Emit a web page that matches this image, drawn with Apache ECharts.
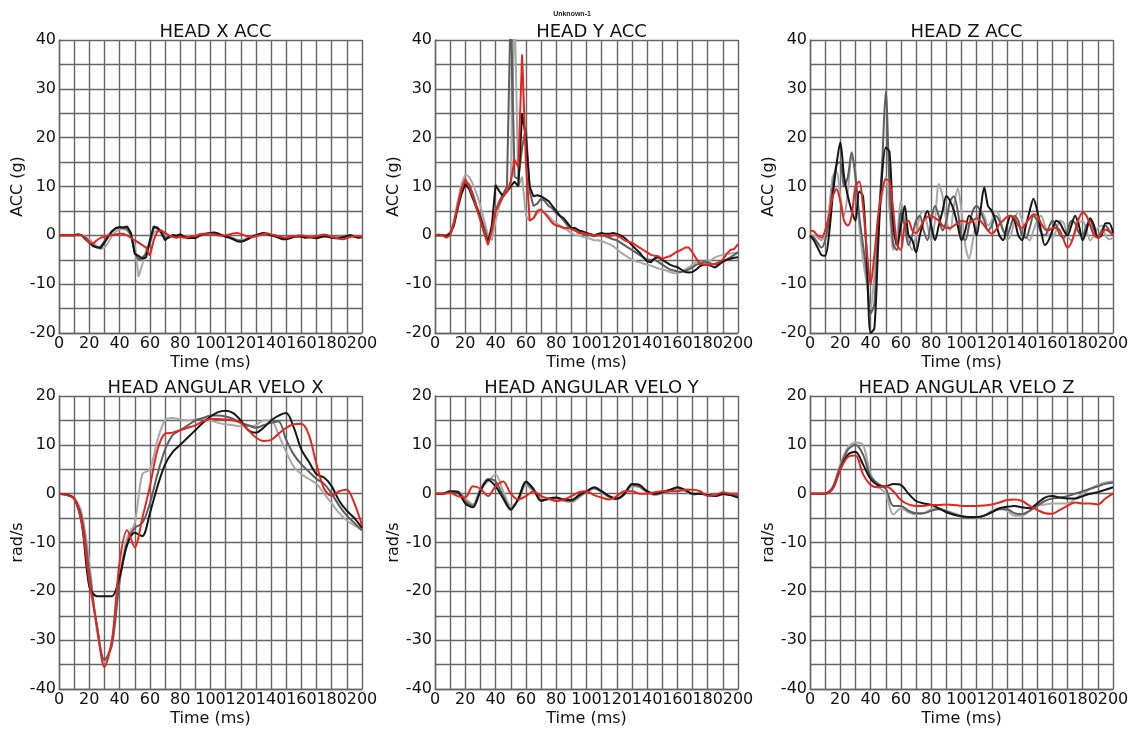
<!DOCTYPE html>
<html><head><meta charset="utf-8">
<script src="https://cdn.jsdelivr.net/npm/echarts@6/dist/echarts.min.js"></script>
<style>html,body{margin:0;padding:0;background:#fff}#c{width:1133px;height:731px}</style>
</head><body><div id="c"></div>
<script>
// ---- time bases (ms) ----
const timeAcc = [0,2.5,5,7.5,10,12.5,15,17.5,20,22.5,25,27.5,30,32.5,35,37.5,40,42.5,45,47.5,50,52.5,55,57.5,60,62.5,65,67.5,70,72.5,75,77.5,80,82.5,85,87.5,90,92.5,95,97.5,100,102.5,105,107.5,110,112.5,115,117.5,120,122.5,125,127.5,130,132.5,135,137.5,140,142.5,145,147.5,150,152.5,155,157.5,160,162.5,165,167.5,170,172.5,175,177.5,180,182.5,185,187.5,190,192.5,195,197.5,200];
const timeVel = [0,5,10,15,20,25,30,35,40,45,50,55,60,65,70,75,80,85,90,95,100,105,110,115,120,125,130,135,140,145,150,155,160,165,170,175,180,185,190,195,200];

const panelTitles = ["HEAD X ACC","HEAD Y ACC","HEAD Z ACC","HEAD ANGULAR VELO X","HEAD ANGULAR VELO Y","HEAD ANGULAR VELO Z"];
const xTickLabels = [0,20,40,60,80,100,120,140,160,180,200];
const yTickLabelsAcc = [-20,-10,0,10,20,30,40];
const yTickLabelsVel = [-40,-30,-20,-10,0,10,20];

// ---- HEAD X ACC ----
const xAccLight = [0,0,0,0,0,0,0,-0.3,-0.8,-1.5,-2.3,-2.8,-2.5,-1.5,0,0.8,1.2,1.3,1,0,-2,-8.5,-6,-3,-1.5,0.5,1.2,1,0,-0.5,0,0,0,-0.3,-0.2,-0.3,-0.3,0,0.2,0.4,0.6,0.5,0.3,0,-0.2,-0.3,-0.6,-0.9,-1,-0.8,-0.5,-0.2,0,0.3,0.5,0.4,0.1,0,-0.3,-0.5,-0.6,-0.5,-0.3,-0.1,-0.2,-0.3,-0.2,-0.3,-0.4,-0.2,-0.1,-0.1,-0.3,-0.4,-0.3,-0.2,0,0.1,-0.1,-0.3,-0.2];
const xAccDark = [0,0,0,0,0,0.2,0,-0.5,-1.3,-2,-2.4,-2.3,-1.2,0,0.9,1.4,1.6,1.5,1.4,0,-3.5,-5,-4.5,-3.8,-1.5,1.5,1.6,0.8,-0.5,-0.5,0,0,0.2,-0.2,-0.4,-0.4,-0.5,-0.2,0.2,0.4,0.5,0.5,0.3,0,-0.2,-0.4,-0.7,-1,-1.1,-1,-0.6,-0.2,0,0.3,0.4,0.3,0,-0.1,-0.4,-0.6,-0.7,-0.5,-0.3,-0.2,-0.2,-0.4,-0.3,-0.4,-0.5,-0.3,-0.2,-0.2,-0.4,-0.5,-0.5,-0.3,-0.1,0,-0.2,-0.4,-0.3];
const xAccBlack = [0,0,0,0,0,0.2,0,-0.8,-1.5,-2.2,-2.5,-2.6,-1.5,-0.3,0.8,1.5,1.7,1.6,1.8,0.5,-3.8,-4.2,-4.8,-4.5,-1,1.8,1.5,0.5,-1,-0.3,0,-0.2,0.2,-0.3,-0.6,-0.5,-0.6,0,0.2,0.3,0.5,0.6,0.4,0,-0.3,-0.5,-0.8,-1.2,-1.3,-1.1,-0.7,-0.3,0,0.3,0.5,0.3,0,-0.2,-0.5,-0.8,-0.8,-0.6,-0.3,-0.2,-0.3,-0.5,-0.4,-0.5,-0.6,-0.4,-0.2,-0.3,-0.5,-0.6,-0.6,-0.4,-0.2,0,-0.3,-0.5,-0.4];
const xAccRed = [0,0,0,0,0,0,0,-0.5,-1.5,-1.7,-1,-0.5,-0.3,0,0,0.2,0.3,0.3,0,-0.5,-1,-1.5,-2,-2.5,-4.2,-1,0.8,1,0.5,0,-0.3,-0.5,-0.3,-0.5,-0.4,-0.2,-0.2,0.2,0.3,0.3,0.3,0.2,0,-0.1,0,0.2,0.4,0.5,0.3,0,-0.3,-0.4,-0.2,0,0.3,0.4,0.2,0,-0.2,-0.4,-0.5,-0.3,-0.2,-0.1,0,-0.2,-0.3,-0.4,-0.2,0,0.2,0,-0.3,-0.5,-0.7,-0.8,-0.6,-0.3,-0.2,-0.2,-0.3];

// ---- HEAD Y ACC ----
const yAccLight = [0,0,0,0,0.5,3,7,10.5,12.5,12,10.5,8.5,6,3,0,-1,3,6,8,9,10,48,10,12,4,3,3.5,4.5,5,4.5,4,3,2.5,2,1.5,1,0.5,0,0,-0.3,-0.5,-0.7,-1,-1,-1.2,-1.5,-1.8,-2.2,-2.8,-3.5,-4,-4.5,-5,-5.3,-5.5,-5.8,-6,-6.2,-6.5,-6.8,-7,-7.2,-7.5,-7.7,-7.8,-7.5,-7,-6.5,-6,-5.5,-5.5,-5.5,-5.3,-5,-4.5,-4.2,-4,-3.8,-3.7,-3.6,-3.5];
const yAccDark = [0,0,0,0,0.5,2.5,6,9.5,11,10.5,8.5,6,4,1.5,-1,1,5,7,8.5,10,48,12,11.5,18,22,9,6,6.5,7.5,7,6,5.5,4.5,4,3,2,1.5,1,0.5,0.3,0,0,-0.2,0,0,-0.2,-0.5,-0.8,-1,-1.5,-2,-2.5,-3,-3.5,-4,-4.5,-5,-5,-5,-5.5,-6,-6.5,-7,-7.2,-7.4,-7.5,-7.3,-7,-6.5,-6,-5.8,-5.5,-5.5,-5.8,-6,-5.8,-5.5,-5,-4.5,-4,-3.5];
const yAccBlack = [0,0,0,-0.3,0.3,2,5.5,8.5,10.5,9.5,7.5,5.5,3.5,0.5,-1.5,2,10.3,9,8,9,10,11,10,25,20,10,8,8.2,8,7.5,7,6,5,4,3.5,2.5,1.5,1.5,1,0.8,0.5,0.3,0,0.3,0.5,0.3,0.3,0.5,0.3,0,-0.5,-1.2,-2,-2.8,-3.5,-4.5,-5.3,-5.5,-4.7,-4.5,-5,-5.5,-6,-6.3,-6.5,-7,-7.5,-7.6,-7.5,-7,-6.3,-6,-6,-6.3,-6.6,-6,-5.3,-5,-4.8,-4.6,-4.5];
const yAccRed = [0,0.2,0,-0.5,0,2.5,6,9.5,11.5,10,8,5.5,3,0.5,-2,1,5,6.5,8,9,11,15.5,14,37,15,3,3.5,5,5.3,4.5,3.5,2.5,2,1.8,1.5,1.5,1.3,1,0.5,0.5,0.3,0.2,0,0,0,0,-0.2,0,0,-0.5,-1,-1.3,-1.5,-2,-2.5,-3,-3.5,-4,-4.2,-4.3,-4.8,-4.5,-4.3,-3.8,-3.3,-3,-2.5,-2.5,-3.5,-4.8,-5.8,-6,-6,-6,-5.8,-5.5,-5,-3.8,-3,-2.8,-1.8];

// ---- HEAD Z ACC ----
const zAccLight = [0,0,-0.5,-1,0,5,12,13,8,4,9,16,13,2,-5,-10,-15,-8,3,8,12,5,-3,0,7,3,-1,-3,0,4,5,2,-1,3,10.5,8,3,1,6,9.6,5,-2,-4.8,-1,3,5,4,2,3,5,4,1,-1,0,3,5,3,0,-1,1,3,4,2,0,-0.5,1,3,2.5,0,-1,0.5,2.5,3,1,-1,0,1.5,2,0,-0.8,-0.5];
const zAccDark = [0,-0.5,-1.5,-2.5,-1,3,10,14.5,15,10,12,17,12,4,-2,-8,-16,-14,2,14,29.5,10,-2,-3,5,2,-2,0,3,4,1,-1,3,6,4,1,3,7,8,5,0,-1,2,5,6,5,3,1,2,4,3,1,0,2,4,3,0,-0.5,1.5,4,3,0.5,0,1.5,3,2,0,-0.5,1,3,2.5,0.5,0,2,3,1,-0.5,1,2,1,0];
const zAccBlack = [0,-1,-2.5,-4,-4.2,0,8,14.5,19,12,8,5,3,9,8,-5,-20,-19,-2,12,18,17,2,-2,2,6,0,-1,-3.5,0,3,5,2,-1,2,5,8,7,5,2,-1,1,4,3,0,5,9.8,6,5,3,0,-1,2,4,3,0,-1,2,5,7.5,5,1,-2,-1,1,3,2.5,1,0,2,4,2,-1,1,3.5,2,-0.5,0,2.5,2.5,0.5];
const zAccRed = [1,0.8,0,-0.5,1,4,8,9.5,7,3,2,4,10,11,6,-3,-10,-4,4,9,11.5,11,5,-2,-3,2,3,1,0.5,1.5,3,3.8,4,3.5,3,2,1.5,1.5,2,2.5,3,2.8,2.5,3,3.5,3,2,1,0.3,1,2.3,3,3.8,4,3.5,2,1.5,2.5,3.5,4.3,4,2.5,1.3,1,1.5,1.5,1,-1,-2.5,-1.5,1,3.5,4.7,4,2,0,-0.5,0.5,1.2,0.8,0];

// ---- HEAD ANGULAR VELO X ----
const xVelLight = [0,-0.2,-0.8,-4,-14,-28,-34.5,-30,-17,-9,-6,4,5,11,15,15.5,15.2,15,15.2,15.3,15,14.5,14.2,14,13.8,13.8,14,15,15,12,8.5,5.5,4,3,2,0,-2,-4,-5.5,-6.5,-7.5];
const xVelDark = [0,-0.2,-1,-5,-16,-27,-34,-31,-18,-10,-7,-6,-2,4,9,12,13,14,15,15.5,16,16,15.8,15.3,14.5,14,13.5,14,14.5,14.8,11,8,6,4.5,3,2,0,-2.5,-4.5,-6,-7.5];
const xVelBlack = [0,-0.2,-1,-6,-19,-21,-21,-21,-17,-10.5,-8,-8.7,-4,1.5,6,8.5,10,11.5,13,14.5,15.8,16.7,17,16.5,15,13,12.5,13.5,15,16,16.5,13.5,9,6.5,4,3.3,1.5,-1.5,-3.5,-5,-7];
const xVelRed = [0,-0.3,-1,-6,-18,-27,-35.5,-30,-14,-7.5,-11,-5,1.5,9,12.3,12.5,13,13.5,14,14.8,15.3,15.3,15.2,15,14.5,13,11.5,10.8,11,12.3,13.5,14.2,14.3,12,6,1,-0.5,0.5,0.8,-2,-6.5];

// ---- HEAD ANGULAR VELO Y ----
const yVelLight = [0,0,0.3,0.5,-1,-2.2,1,2.5,3.9,0.5,-2.5,-1.5,1.8,0.5,-1,-1.2,-1,-1.5,-1.8,-0.8,0.3,1,0.3,-0.8,-1.2,-0.2,1.5,1.3,0.3,-0.3,0,0.5,1,0.5,-0.2,0,0,-0.5,-0.2,0,0];
const yVelDark = [0,0,0.4,0.4,-1.5,-2.5,0.8,3,2.5,-0.5,-3,-1.2,2.2,0.8,-1.3,-1.1,-0.9,-1.3,-1.5,-0.5,0.4,1.2,0.4,-0.6,-1.1,-0.1,1.8,1.5,0.4,-0.1,0.2,0.6,1.2,0.7,-0.1,0,-0.2,-0.5,-0.1,-0.2,-0.5];
const yVelBlack = [0,0,0.5,0.3,-2,-2.8,0.5,2.8,1.5,-1,-3.3,-1,2.5,1,-1.5,-1,-0.8,-1.2,-1.3,-0.3,0.5,1.3,0.5,-0.5,-1,0,2,1.8,0.5,0,0.3,0.8,1.3,0.8,0,0,-0.3,-0.5,0,-0.3,-0.8];
const yVelRed = [0,0,0.2,-0.5,-0.8,1.5,1,-0.5,1.5,2.5,0,-1.2,-0.5,0.5,-0.5,-1,-1.5,-1.2,-0.5,0.3,0.5,-0.3,-0.8,-1.2,-0.5,0.5,0.5,0,0,0.3,0.5,0.5,0.5,0.8,0.8,0.5,-0.5,-0.3,0.3,0,0];

// ---- HEAD ANGULAR VELO Z ----
const zVelLight = [0,0,0,1.5,6,9.5,10.5,10,4,1.5,0,-4.3,-3,-3.8,-4.2,-4,-3.2,-3,-3.5,-4,-4.5,-4.8,-5,-4.5,-3.5,-3,-3.5,-4.5,-4.5,-3.5,-2.5,-2.2,-2,-2,-2,-1,0,1,1.8,2.3,2.5];
const zVelDark = [0,0,0,1.2,5.5,9,10,8,3.5,2,1,-2.5,-2.5,-3.5,-4,-4,-3.5,-3.2,-3.6,-4.2,-4.7,-5,-4.9,-4.5,-3.8,-3.2,-3.2,-4,-4.2,-3.5,-2.5,-1.5,-1,-0.8,-0.5,0,0.5,1,1.5,2,2.3];
const zVelBlack = [0,0,0,1,5,8,8.6,6,3,1.7,1.5,2,1.8,0,-1.5,-2,-2.3,-3,-3.8,-4.3,-4.6,-4.8,-4.8,-4.5,-3.8,-3,-2.7,-2.5,-2.8,-3,-2,-0.8,-0.5,-0.8,-1,-1,-0.5,0,0.3,0.8,1.3];
const zVelRed = [0,0,0,1,5,7.5,7.8,4,1.8,1.3,1.5,0.5,-1.3,-2.2,-2.5,-2.5,-2.3,-2.3,-2.2,-2.3,-2.5,-2.5,-2.5,-2.4,-2.2,-1.8,-1.3,-1.2,-1.5,-2.5,-3.3,-4,-4.1,-3.3,-2.5,-1.8,-2,-2,-2.2,-1,0];

const panels = [
  {time: timeAcc, series: [xAccLight, xAccDark, xAccBlack, xAccRed], yMin: -20, yMax: 40, yName: "ACC (g)", smooth: false},
  {time: timeAcc, series: [yAccLight, yAccDark, yAccBlack, yAccRed], yMin: -20, yMax: 40, yName: "ACC (g)", smooth: false},
  {time: timeAcc, series: [zAccLight, zAccDark, zAccBlack, zAccRed], yMin: -20, yMax: 40, yName: "ACC (g)", smooth: 0.3},
  {time: timeVel, series: [xVelLight, xVelDark, xVelBlack, xVelRed], yMin: -40, yMax: 20, yName: "rad/s", smooth: 0.3},
  {time: timeVel, series: [yVelLight, yVelDark, yVelBlack, yVelRed], yMin: -40, yMax: 20, yName: "rad/s", smooth: 0.3},
  {time: timeVel, series: [zVelLight, zVelDark, zVelBlack, zVelRed], yMin: -40, yMax: 20, yName: "rad/s", smooth: 0.3}
];
const lineColors = ['#a8a8a8', '#5e5e5e', '#161616', '#e5261e'];

const lefts = [59, 435, 810], tops = [40, 396], W = 303, H = 293;
const FONT = 'DejaVu Sans';
const gridColor = '#666666';

const grids = [], xAxes = [], yAxes = [], series = [], titles = [];
panels.forEach((p, k) => {
  const col = k % 3, row = Math.floor(k / 3);
  grids.push({left: lefts[col], top: tops[row], width: W, height: H, containLabel: false, outerBoundsMode: 'none'});
  xAxes.push({
    type: 'value', gridIndex: k, min: xTickLabels[0], max: xTickLabels[xTickLabels.length - 1], interval: 10,
    name: 'Time (ms)', nameLocation: 'middle', nameGap: 22,
    nameTextStyle: {fontFamily: FONT, fontSize: 16, color: '#111'},
    axisLine: {show: true, onZero: false, lineStyle: {color: gridColor, width: 1.4}},
    axisTick: {show: false},
    axisLabel: {margin: 3, fontFamily: FONT, fontSize: 16, color: '#111', hideOverlap: false, showMinLabel: true, showMaxLabel: true,
      formatter: v => xTickLabels.includes(v) ? String(v) : ''},
    splitLine: {show: true, lineStyle: {color: gridColor, width: 1.4}}
  });
  const yTicks = p.yMin === -20 ? yTickLabelsAcc : yTickLabelsVel;
  yAxes.push({
    type: 'value', gridIndex: k, min: p.yMin, max: p.yMax, interval: 5,
    name: p.yName, nameLocation: 'middle', nameGap: 28, nameRotate: 90,
    nameTextStyle: {fontFamily: FONT, fontSize: 16, color: '#111'},
    axisLine: {show: true, onZero: false, lineStyle: {color: gridColor, width: 1.4}},
    axisTick: {show: false},
    axisLabel: {margin: 3, fontFamily: FONT, fontSize: 16, color: '#111', hideOverlap: false, showMinLabel: true, showMaxLabel: true,
      formatter: v => yTicks.includes(v) ? String(v) : ''},
    splitLine: {show: true, lineStyle: {color: gridColor, width: 1.4}}
  });
  p.series.forEach((vals, j) => {
    series.push({
      type: 'line', xAxisIndex: k, yAxisIndex: k, showSymbol: false, symbol: 'none',
      smooth: p.smooth, clip: true, silent: true, animation: false,
      lineStyle: {color: lineColors[j], width: 2},
      data: p.time.map((t, i) => [t, vals[i]])
    });
  });
  titles.push({
    text: panelTitles[k], left: lefts[col] + W / 2, top: tops[row] - 22, textAlign: 'center',
    textStyle: {fontFamily: FONT, fontSize: 18, fontWeight: 'normal', color: '#111'}
  });
});
titles.push({text: 'Unknown-1', left: 567, top: 6, textAlign: 'center',
  textStyle: {fontFamily: 'Liberation Sans', fontSize: 7, fontWeight: 'bold', color: '#222'}});

const chart = echarts.init(document.getElementById('c'), null, {renderer: 'canvas'});
chart.setOption({
  animation: false, backgroundColor: '#fff',
  title: titles, grid: grids, xAxis: xAxes, yAxis: yAxes, series: series
});
</script></body></html>
